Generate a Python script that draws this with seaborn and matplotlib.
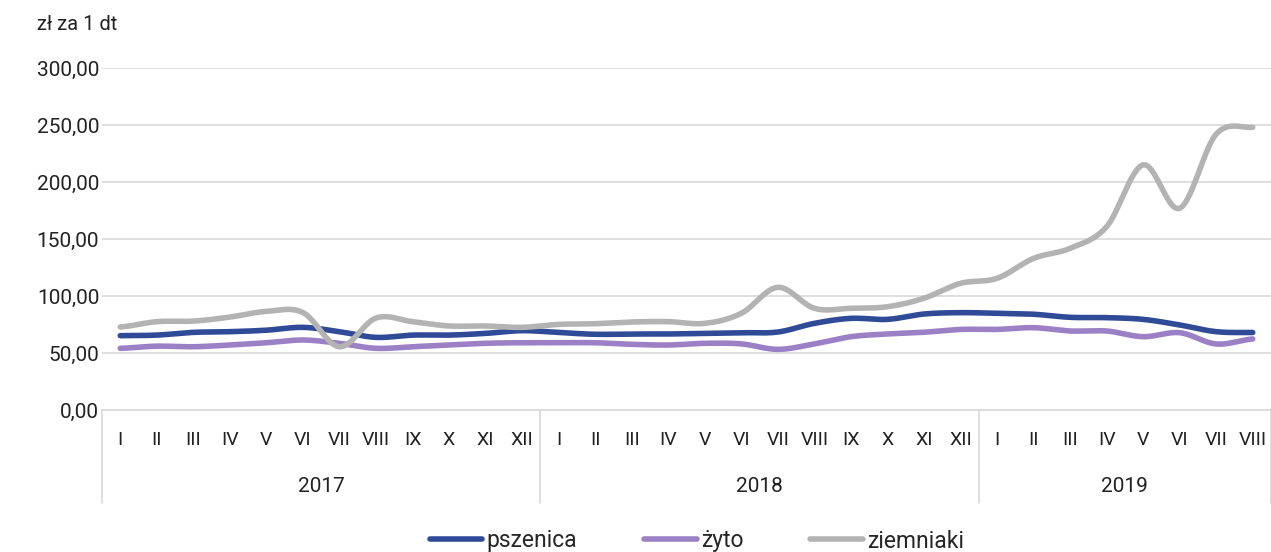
import numpy as np
import pandas as pd
import matplotlib
matplotlib.use("Agg")
import matplotlib.pyplot as plt
import matplotlib.transforms as mtransforms
from matplotlib.ticker import FuncFormatter
import seaborn as sns

sns.set_style("white")
plt.rcParams['font.family'] = ['Roboto', 'DejaVu Sans']

# data (zl za 1 dt)
months = ["I", "II", "III", "IV", "V", "VI", "VII", "VIII", "IX", "X", "XI", "XII"]
month_labels = months + months + months[:8]
years = ["2017", "2018", "2019"]
year_len = [12, 12, 8]

pszenica = [65.2, 65.7, 68.1, 68.7, 70.0, 72.5, 68.7, 63.7, 65.7, 65.7, 67.2, 69.6,
            68.0, 66.4, 66.7, 66.7, 67.2, 67.8, 68.4, 76.0, 80.4, 79.5, 84.2, 85.4,
            84.8, 84.0, 81.3, 81.0, 79.5, 74.6, 68.7, 68.0]
zyto = [54.1, 56.0, 55.5, 57.0, 59.0, 61.4, 58.5, 54.1, 55.5, 57.0, 58.5, 59.0,
        59.0, 59.0, 57.6, 57.0, 58.5, 58.0, 53.2, 58.0, 64.3, 66.7, 68.2, 70.7,
        70.7, 72.2, 69.3, 69.3, 64.3, 67.8, 57.9, 62.3]
ziemniaki = [72.8, 77.5, 78.0, 81.5, 86.5, 85.5, 55.5, 80.7, 77.5, 73.7, 73.7, 72.5,
             75.1, 75.7, 77.2, 77.5, 76.0, 84.8, 107.6, 89.2, 89.2, 90.6, 98.0, 111.1,
             115.5, 133.0, 141.8, 160.8, 215.0, 177.0, 242.0, 248.0]

series = {"pszenica": pszenica, "żyto": zyto, "ziemniaki": ziemniaki}
colors = {"pszenica": "#2f4a97", "żyto": "#9c80c6", "ziemniaki": "#b3b3b3"}


def smooth(y, n=30):
    # Excel-like smoothed line (Catmull-Rom through the points)
    y = np.asarray(y, dtype=float)
    p = np.concatenate([[y[0]], y, [y[-1]]])
    xs, ys = [], []
    for i in range(len(y) - 1):
        p0, p1, p2, p3 = p[i], p[i + 1], p[i + 2], p[i + 3]
        t = np.linspace(0, 1, n, endpoint=False)
        c1 = p1 + (p2 - p0) / 6
        c2 = p2 - (p3 - p1) / 6
        v = ((1 - t) ** 3) * p1 + 3 * ((1 - t) ** 2) * t * c1 + 3 * (1 - t) * t ** 2 * c2 + t ** 3 * p2
        xs.append(i + t)
        ys.append(v)
    xs.append([len(y) - 1])
    ys.append([y[-1]])
    return np.concatenate(xs), np.concatenate(ys)


rows = []
for name, vals in series.items():
    xs, ys = smooth(vals)
    rows.append(pd.DataFrame({"x": xs, "y": ys, "seria": name}))
df = pd.concat(rows, ignore_index=True)

fig = plt.figure(figsize=(12.71, 5.52), dpi=100)
ax = fig.add_axes([102 / 1271, 1 - 410 / 552, 1169 / 1271, 342 / 552])

sns.lineplot(data=df, x="x", y="y", hue="seria", palette=colors, linewidth=4,
             sort=False, estimator=None, ax=ax, legend=True)

ax.set_xlim(-0.5, len(month_labels) - 0.5)
ax.set_ylim(0, 300)
ax.set_yticks(np.arange(0, 301, 50))
ax.yaxis.set_major_formatter(FuncFormatter(lambda v, p: f"{v:.2f}".replace(".", ",")))
ax.yaxis.grid(True, color="#d9d9d9", linewidth=1.2)
ax.set_axisbelow(True)
for s in ["top", "right", "left"]:
    ax.spines[s].set_visible(False)
ax.spines["bottom"].set_color("#d9d9d9")
ax.spines["bottom"].set_linewidth(1.2)
ax.set_xlabel("")
ax.set_ylabel("")

ax.set_xticks(range(len(month_labels)))
ax.set_xticklabels(month_labels)
ax.tick_params(axis="x", length=0, pad=15, labelsize=14, colors="#222222")
ax.tick_params(axis="y", length=0, pad=2, labelsize=15, colors="#222222")

# year groups under the months
trans = mtransforms.blended_transform_factory(ax.transData, ax.transAxes)
start = 0
for yr, n in zip(years, year_len):
    ax.plot([start - 0.5, start - 0.5], [0, -0.272], transform=trans, color="#d9d9d9",
            linewidth=1.2, clip_on=False)
    ax.text(start + n / 2 - 0.5, -0.225, yr, transform=trans, ha="center", va="center",
            fontsize=15, color="#222222")
    start += n
ax.plot([start - 0.5, start - 0.5], [0, -0.272], transform=trans, color="#d9d9d9",
        linewidth=1.2, clip_on=False)

fig.text(37 / 1271, 1 - 25 / 552, "zł za 1 dt", ha="left", va="center", fontsize=14.5,
         color="#222222")

handles, labels = ax.get_legend_handles_labels()
ax.get_legend().remove()
fig.legend(handles, labels, loc="center", bbox_to_anchor=(697 / 1271, 11 / 552), ncol=3,
           frameon=False, fontsize=16.5, handlelength=2.3, handletextpad=0.2,
           columnspacing=2.9, borderpad=0)

fig.savefig("out.png", dpi=100)
